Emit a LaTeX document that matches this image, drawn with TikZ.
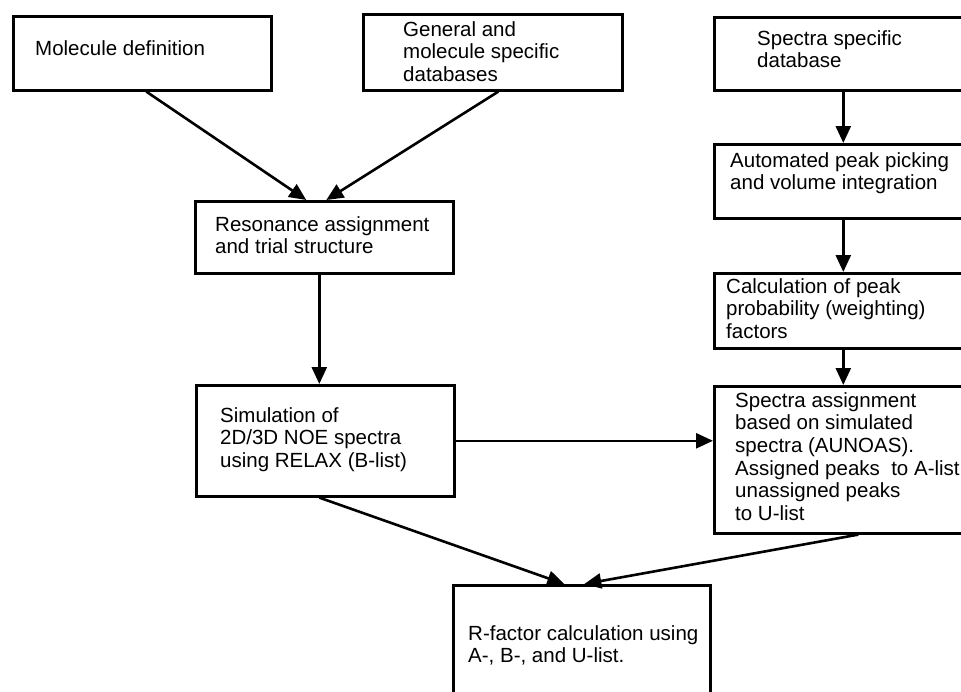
\documentclass[tikz,border=0pt]{standalone}
\usepackage{fontspec}
\setmainfont{Liberation Sans}
\usetikzlibrary{arrows.meta,calc}
\tikzset{
  box/.style={draw, line width=2.6pt, rectangle, inner sep=0pt, anchor=north west},
  txt/.style={anchor=north west, inner sep=0pt, align=left,
              font=\fontsize{20.5}{22.6}\selectfont},
  arr/.style={line width=2.6pt, -{Triangle[length=17pt,width=15pt]}}
}
\begin{document}
\begin{tikzpicture}[x=1pt,y=-1pt]
  \clip (0,0) rectangle (961,691);
  \fill[white] (0,0) rectangle (961,691);

  % boxes (first baseline of each text minus the strut height 15.8)
  \node[box, minimum width=258pt, minimum height=74pt] (mol) at (12,15) {};
  \node[txt] (molT) at (35,39.2) {\strut Molecule definition};

  \node[box, minimum width=259pt, minimum height=76pt] (gen) at (362,13) {};
  \node[txt] (genT) at (403,20.2) {\strut General and\\molecule specific\\databases};

  \node[box, minimum width=258pt, minimum height=73pt] (ssd) at (713,16) {};
  \node[txt] (ssdT) at (757,29.2) {\strut Spectra specific\\database};

  \node[box, minimum width=258pt, minimum height=74pt] (app) at (713,143) {};
  \node[txt] (appT) at (730,151.2) {\strut Automated peak picking\\and volume integration};

  \node[box, minimum width=258pt, minimum height=72pt] (res) at (194,200) {};
  \node[txt] (resT) at (215,215.2) {\strut Resonance assignment\\and trial structure};

  \node[box, minimum width=258pt, minimum height=75pt] (cal) at (713,272) {};
  \node[txt] (calT) at (726,277.2) {\strut Calculation of peak\\probability (weighting)\\factors};

  \node[box, minimum width=258pt, minimum height=111pt] (sim) at (195,384) {};
  \node[txt] (simT) at (220,406.2) {\strut Simulation of\\2D/3D NOE spectra\\using RELAX (B-list)};

  \node[box, minimum width=258pt, minimum height=147pt] (sa) at (713,385) {};
  \node[txt] (saT) at (735,391.2) {\strut Spectra assignment\\based on simulated\\spectra (AUNOAS).\\Assigned peaks\ \ to A-list\\unassigned peaks\\to U-list};

  \node[box, minimum width=257pt, minimum height=140pt] (rf) at (452,584) {};
  \node[txt] (rfT) at (468,624.2) {\strut R-factor calculation using\\A-, B-, and U-list.};

  % connectors
  \draw[arr] ($(mol.south)+(4,0)$) -- ($(res.north)+(-18,0)$);
  \draw[arr] ($(gen.south)+(5.5,0)$) -- ($(res.north)+(2,0)$);
  \draw[arr] ($(res.south)+(-5,0)$) -- ($(sim.north)+(-6,0)$);
  \draw[arr] (ssd.south) -- (app.north);
  \draw[arr] (app.south) -- (cal.north);
  \draw[arr] (cal.south) -- (sa.north);
  \draw[arr] (sim.east) -- (sim.east -| sa.west);
  \draw[arr] ($(sim.south)+(-6,0)$) -- ($(rf.north)+(-17.5,0)$);
  \draw[arr] ($(sa.south)+(15,0)$) -- ($(rf.north)+(2.5,0)$);
\end{tikzpicture}
\end{document}
